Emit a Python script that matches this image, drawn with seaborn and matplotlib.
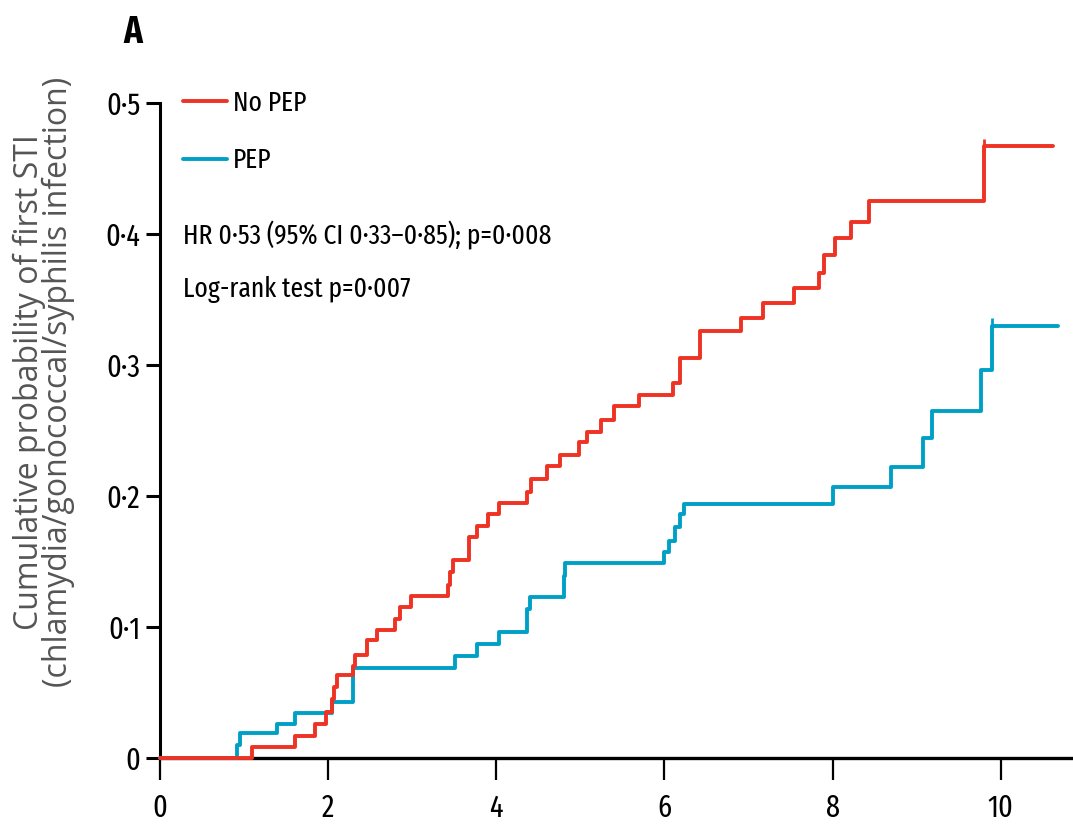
import matplotlib
matplotlib.use('Agg')
import matplotlib.pyplot as plt
import seaborn as sns
import numpy as np
import pandas as pd

# step data (time in x units, cumulative probability)
no_pep_t = [0, 1.09, 1.605, 1.84, 1.97, 2.04, 2.07, 2.10, 2.30, 2.32, 2.46, 2.58, 2.79, 2.85,
            2.99, 3.42, 3.45, 3.48, 3.67, 3.77, 3.90, 4.03, 4.36, 4.41, 4.60, 4.76, 4.98,
            5.08, 5.24, 5.40, 5.70, 6.10, 6.18, 6.42, 6.91, 7.17, 7.54, 7.84, 7.90, 8.03,
            8.22, 8.43, 9.80, 10.62]
no_pep_p = [0, 0.0086, 0.017, 0.026, 0.035, 0.045, 0.054, 0.063, 0.070, 0.079, 0.090, 0.098,
            0.106, 0.115, 0.124, 0.132, 0.142, 0.151, 0.169, 0.177, 0.186, 0.195, 0.203,
            0.213, 0.223, 0.231, 0.241, 0.249, 0.258, 0.269, 0.277, 0.286, 0.305, 0.326,
            0.336, 0.347, 0.359, 0.370, 0.384, 0.397, 0.409, 0.425, 0.467, 0.467]

pep_t = [0, 0.92, 0.95, 1.39, 1.605, 2.05, 2.29, 3.51, 3.77, 4.03, 4.36, 4.40, 4.80, 4.82,
         6.00, 6.06, 6.13, 6.18, 6.23, 8.00, 8.69, 9.08, 9.18, 9.77, 9.90, 10.68]
pep_p = [0, 0.0100, 0.019, 0.026, 0.034, 0.043, 0.069, 0.078, 0.087, 0.096, 0.114, 0.123,
         0.139, 0.149, 0.1575, 0.166, 0.176, 0.186, 0.194, 0.207, 0.222, 0.244, 0.265,
         0.296, 0.330, 0.330]

censor_no_pep = (9.80, 0.467)
censor_pep = (9.90, 0.330)

x_ticks = [0, 2, 4, 6, 8, 10]
y_ticks = [0, 0.1, 0.2, 0.3, 0.4, 0.5]
y_tick_labels = ['0', '0·1', '0·2', '0·3', '0·4', '0·5']

red = '#ee3224'
blue = '#00a0c6'

sns.set_style('white')
plt.rcParams['font.family'] = ['Fira Sans Extra Condensed', 'DejaVu Sans']
plt.rcParams['text.color'] = 'black'
plt.rcParams['xtick.color'] = 'black'
plt.rcParams['ytick.color'] = 'black'

df = pd.concat([
    pd.DataFrame({'t': no_pep_t, 'p': no_pep_p, 'group': 'No PEP'}),
    pd.DataFrame({'t': pep_t, 'p': pep_p, 'group': 'PEP'}),
])

fig = plt.figure(figsize=(10.73, 8.25), dpi=100)
ax = fig.add_axes([160 / 1073, 67 / 825, 913 / 1073, 655 / 825])

# PEP first so the red curve sits on top
sns.lineplot(data=df[df.group == 'PEP'], x='t', y='p', color=blue, lw=2.8,
             drawstyle='steps-post', estimator=None, ax=ax, label='PEP',
             zorder=3, clip_on=False)
sns.lineplot(data=df[df.group == 'No PEP'], x='t', y='p', color=red, lw=2.8,
             drawstyle='steps-post', estimator=None, ax=ax, label='No PEP',
             zorder=4, clip_on=False)
ax.plot([censor_no_pep[0]], [censor_no_pep[1] + 0.002], marker='|', ms=7, mew=2,
        color=red, zorder=4, clip_on=False)
ax.plot([censor_pep[0]], [censor_pep[1] + 0.002], marker='|', ms=7, mew=2,
        color=blue, zorder=3, clip_on=False)

ax.set_xlim(0, 10.86)
ax.set_ylim(0, 0.5)
ax.set_xticks(x_ticks)
ax.set_xticklabels([str(v) for v in x_ticks])
ax.set_yticks(y_ticks)
ax.set_yticklabels(y_tick_labels)
ax.set_xlabel('')
ax.set_ylabel('')

for s in ['top', 'right']:
    ax.spines[s].set_visible(False)
ax.spines['left'].set_linewidth(2.2)
ax.spines['bottom'].set_linewidth(2.4)
ax.spines['left'].set_color('black')
ax.spines['bottom'].set_color('black')
ax.tick_params(axis='y', length=10, width=2.2, direction='out', pad=4,
               labelsize=22, left=True)
ax.tick_params(axis='x', length=16, width=1.6, direction='out', pad=9,
               labelsize=22, bottom=True)

handles, labels = ax.get_legend_handles_labels()
order = [labels.index('No PEP'), labels.index('PEP')]
ax.legend([handles[i] for i in order], [labels[i] for i in order],
          loc='upper left', bbox_to_anchor=((183 - 160) / 913, (758 - 90) / 655),
          frameon=False, fontsize=20, handlelength=1.6, handletextpad=0.2,
          labelspacing=1.1, borderpad=0, borderaxespad=0)

ax.text((183 - 160) / 913, (758 - 235) / 655, 'HR 0·53 (95% CI 0·33–0·85); p=0·008',
        transform=ax.transAxes, fontsize=20, ha='left', va='center')
ax.text((183 - 160) / 913, (758 - 289) / 655, 'Log-rank test p=0·007',
        transform=ax.transAxes, fontsize=20, ha='left', va='center')

fig.text(123 / 1073, 1 - 33 / 825, 'A', fontsize=27, fontweight='bold',
         ha='left', va='center')
fig.text(44 / 1073, 1 - 382 / 825,
         'Cumulative probability of first STI\n(chlamydia/gonococcal/syphilis infection)',
         rotation=90, ha='center', va='center', multialignment='center',
         fontsize=23, color='#555555', family=['Open Sans', 'DejaVu Sans'],
         linespacing=0.86)

fig.savefig('out.png', dpi=100)
